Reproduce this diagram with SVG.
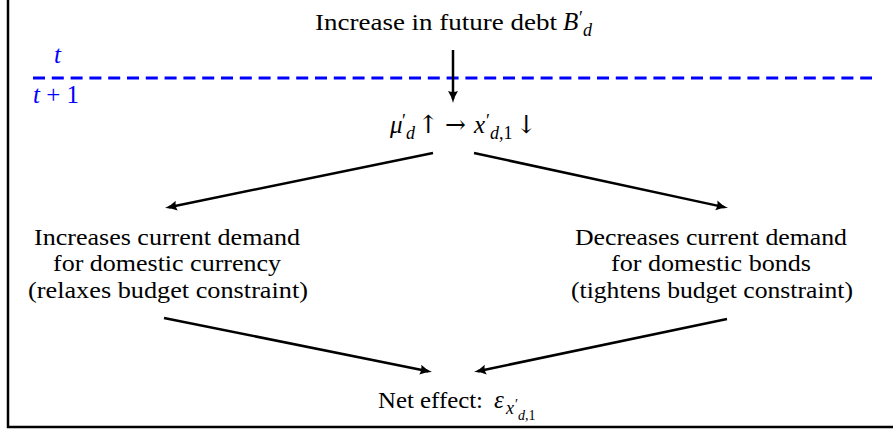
<svg xmlns="http://www.w3.org/2000/svg" width="893" height="434" viewBox="0 0 893 434">
<style>
text{font-family:"Liberation Serif","Times New Roman",Tinos,"DejaVu Serif","Noto Serif",serif;fill:#000;}
.t{font-size:24px;}
.m{font-size:25px;}
.it{font-style:italic;}
.sub{font-size:18px;}
.ssub{font-size:14px;}
.ar{font-family:"DejaVu Serif","Liberation Serif",serif;font-size:25px;}
.blue{fill:#0000ff;}
.c{text-anchor:middle;}
.arr{stroke:#000;stroke-width:2.5;fill:none;marker-end:url(#ah);}
</style>
<defs>
<marker id="ah" markerUnits="userSpaceOnUse" markerWidth="14" markerHeight="12" refX="8" refY="5" orient="auto" viewBox="0 0 14 10">
<path d="M0,0 Q6,4 12,5 Q6,6 0,10 Q2,5 0,0 Z" fill="#000"/>
</marker>
</defs>
<rect width="893" height="434" fill="#fff"/>
<path d="M8,-5 L8,427 L900,427" fill="none" stroke="#000" stroke-width="2.5"/>
<g id="timeline">
<line x1="33" y1="78" x2="872" y2="78" stroke="#0000ff" stroke-width="3" stroke-dasharray="12 6.8"/>
<text class="m it blue" x="54" y="63">t</text>
<text class="m blue" x="33" y="103"><tspan class="it">t</tspan> + 1</text>
</g>
<g id="node-debt">
<text class="t"><tspan x="315" y="30" textLength="242" lengthAdjust="spacingAndGlyphs">Increase in future debt</tspan><tspan class="m it" x="563" y="30">B</tspan><tspan class="sub" x="579" y="24 36">′<tspan class="it">d</tspan></tspan></text>
</g>
<g id="node-mu">
<text class="m"><tspan class="it" x="390" y="133">μ</tspan><tspan class="sub" x="402" y="127 139">′<tspan class="it">d</tspan></tspan><tspan class="ar" x="418" y="133">↑</tspan><tspan class="ar" x="445" y="133">→</tspan><tspan class="it" x="474" y="133">x</tspan><tspan class="sub" x="486" y="127 139">′<tspan class="it">d</tspan>,1</tspan><tspan class="ar" x="516" y="133">↓</tspan></text>
</g>
<g id="node-currency">
<text class="t c" x="167" y="244.7" textLength="266" lengthAdjust="spacingAndGlyphs">Increases current demand</text>
<text class="t c" x="167" y="271.4" textLength="228" lengthAdjust="spacingAndGlyphs">for domestic currency</text>
<text class="t c" x="168" y="298.1" textLength="280" lengthAdjust="spacingAndGlyphs">(relaxes budget constraint)</text>
</g>
<g id="node-bonds">
<text class="t c" x="711" y="244.7" textLength="272" lengthAdjust="spacingAndGlyphs">Decreases current demand</text>
<text class="t c" x="711" y="271.4" textLength="200" lengthAdjust="spacingAndGlyphs">for domestic bonds</text>
<text class="t c" x="712" y="298.1" textLength="282" lengthAdjust="spacingAndGlyphs">(tightens budget constraint)</text>
</g>
<g id="node-net">
<text class="t"><tspan x="378" y="408" textLength="105" lengthAdjust="spacingAndGlyphs">Net effect:</tspan><tspan class="m it" x="494" y="408">ε</tspan><tspan class="sub it" x="506" y="414">x</tspan><tspan class="ssub" x="515" y="409 420">′<tspan class="it">d</tspan>,1</tspan></text>
</g>
<g id="connectors">
<line class="arr" x1="453" y1="50" x2="453" y2="99"/>
<line class="arr" x1="433" y1="153" x2="168.9" y2="207.2"/>
<line class="arr" x1="474" y1="153" x2="724.1" y2="207.15"/>
<line class="arr" x1="164" y1="318" x2="428.1" y2="371.2"/>
<line class="arr" x1="727" y1="319" x2="477.9" y2="371.2"/>
</g>
</svg>
